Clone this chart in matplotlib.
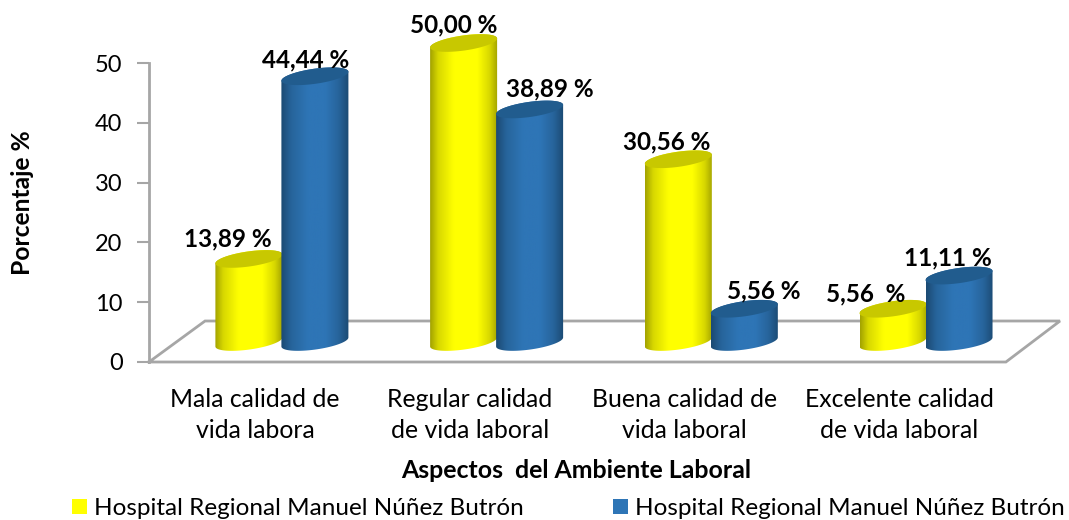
import matplotlib
matplotlib.use("Agg")
import matplotlib.pyplot as plt
import numpy as np
from matplotlib.colors import LinearSegmentedColormap
from matplotlib.patches import Patch, Polygon

plt.rcParams["font.family"] = ["Lato", "DejaVu Sans"]

categorias = ["Mala calidad de\nvida labora", "Regular calidad\nde vida laboral",
              "Buena calidad de\nvida laboral", "Excelente calidad\nde vida laboral"]
serie_a = [13.89, 50.00, 30.56, 5.56]
serie_b = [44.44, 38.89, 5.56, 11.11]
etiquetas_a = ["13,89 %", "50,00 %", "30,56 %", "5,56  %"]
etiquetas_b = ["44,44 %", "38,89 %", "5,56 %", "11,11 %"]
nombre_serie = "Hospital Regional Manuel Núñez Butrón"

PX_X = 214.7  # pixeles por categoria
PX_Y = 5.98   # pixeles por unidad
BASE = 20 / PX_Y   # altura del centro de la base del cilindro
RX = 33.5 / PX_X
RY = 7.6 / PX_Y
SESGO = 4.5 / PX_Y
GRIS = "#a6a6a6"

cmap_a = LinearSegmentedColormap.from_list("a", [(0, "#a3a300"), (0.12, "#d8d800"), (0.35, "#ffff00"),
                                                 (0.7, "#ffff00"), (0.88, "#d8d800"), (1, "#a3a300")])
cmap_b = LinearSegmentedColormap.from_list("b", [(0, "#1b4a73"), (0.15, "#27649b"), (0.4, "#2e75b6"),
                                                 (0.65, "#2e75b6"), (0.85, "#27649b"), (1, "#1b4a73")])


def cilindro(ax, cx, valor, cmap, color_tapa):
    t = np.linspace(0, 2 * np.pi, 120)
    arriba = BASE + valor
    # cuerpo: borde inferior de la base y borde inferior de la tapa
    t1 = np.linspace(np.pi, 2 * np.pi, 60)
    xb = cx + RX * np.cos(t1)
    yb = BASE + RY * np.sin(t1) + SESGO * np.cos(t1)
    xt = xb[::-1]
    yt = arriba + RY * np.sin(t1[::-1]) * -1 + SESGO * np.cos(t1[::-1])
    cuerpo = Polygon(np.column_stack([np.r_[xb, xt], np.r_[yb, yt]]), closed=True,
                     transform=ax.transData, fc="none", ec="none")
    ax.add_patch(cuerpo)
    img = ax.imshow(np.linspace(0, 1, 200).reshape(1, -1), cmap=cmap, aspect="auto",
                    extent=[cx - RX, cx + RX, BASE - 2 * RY, arriba + 2 * RY], zorder=3)
    img.set_clip_path(cuerpo)
    ax.fill(cx + RX * np.cos(t), arriba + RY * np.sin(t) + SESGO * np.cos(t),
            fc=color_tapa, ec="none", zorder=3)


fig = plt.figure(figsize=(10.69, 5.2), dpi=100)
ax = fig.add_axes([149 / 1069, 158 / 520, 911 / 1069, 362 / 520])

x = np.arange(len(categorias))
ancho = 33 / PX_X

for i in x:
    cilindro(ax, i - ancho, serie_a[i], cmap_a, "#c8c800")
for i in x:
    cilindro(ax, i + ancho, serie_b[i], cmap_b, "#215c8e")

ax.set_xlim(-0.619, 3.624)
ax.set_ylim(0, 362 / PX_Y)

# piso del grafico 3D
piso_x = [-0.619, -0.358, 3.624, 3.372, -0.619]
piso_y = [0, 41 / PX_Y, 41 / PX_Y, 0, 0]
ax.plot(piso_x, piso_y, color=GRIS, lw=2, clip_on=False, zorder=1, solid_joinstyle="miter")

desp_a = [(-21, 20), (-10, 18), (-12, 17), (-27, 15)]
desp_b = [(-9, 16), (20, 21), (19, 18), (-11, 18)]
for i in x:
    ax.annotate(etiquetas_a[i], (i - ancho, BASE + serie_a[i]), xytext=desp_a[i],
                textcoords="offset pixels", ha="center", va="center", fontsize=17.5, fontweight="bold", zorder=5)
    ax.annotate(etiquetas_b[i], (i + ancho, BASE + serie_b[i]), xytext=desp_b[i],
                textcoords="offset pixels", ha="center", va="center", fontsize=17.5, fontweight="bold", zorder=5)

ax.set_xticks(x - 0.125)
ax.set_xticklabels(categorias, fontsize=17.8, linespacing=1.4)
ax.set_yticks(range(0, 51, 10))
ax.tick_params(axis="x", length=0, pad=19)
ax.tick_params(axis="y", length=9, width=1.5, color=GRIS, labelsize=17, pad=10)

for lado in ["top", "right", "bottom"]:
    ax.spines[lado].set_visible(False)
ax.spines["left"].set_color(GRIS)
ax.spines["left"].set_linewidth(2)
ax.spines["left"].set_bounds(0, 50)

fig.text(22 / 1069, 1 - 203 / 520, "Porcentaje %", rotation=90, ha="center", va="center",
         fontsize=17.7, fontweight="bold")
fig.text(576 / 1069, 1 - 470 / 520, "Aspectos  del Ambiente Laboral", ha="center", va="center",
         fontsize=17.9, fontweight="bold")

handles = [Patch(fc="#ffff00", ec="none"), Patch(fc="#2e75b6", ec="none")]
fig.legend(handles, [nombre_serie, nombre_serie], ncols=2, loc="lower left",
           bbox_to_anchor=(72 / 1069, 0.002), frameon=False, fontsize=17.5,
           borderaxespad=0, borderpad=0,
           handlelength=0.61, handleheight=0.61, handletextpad=0.29, columnspacing=3.68)

fig.savefig("out.png", dpi=100)
